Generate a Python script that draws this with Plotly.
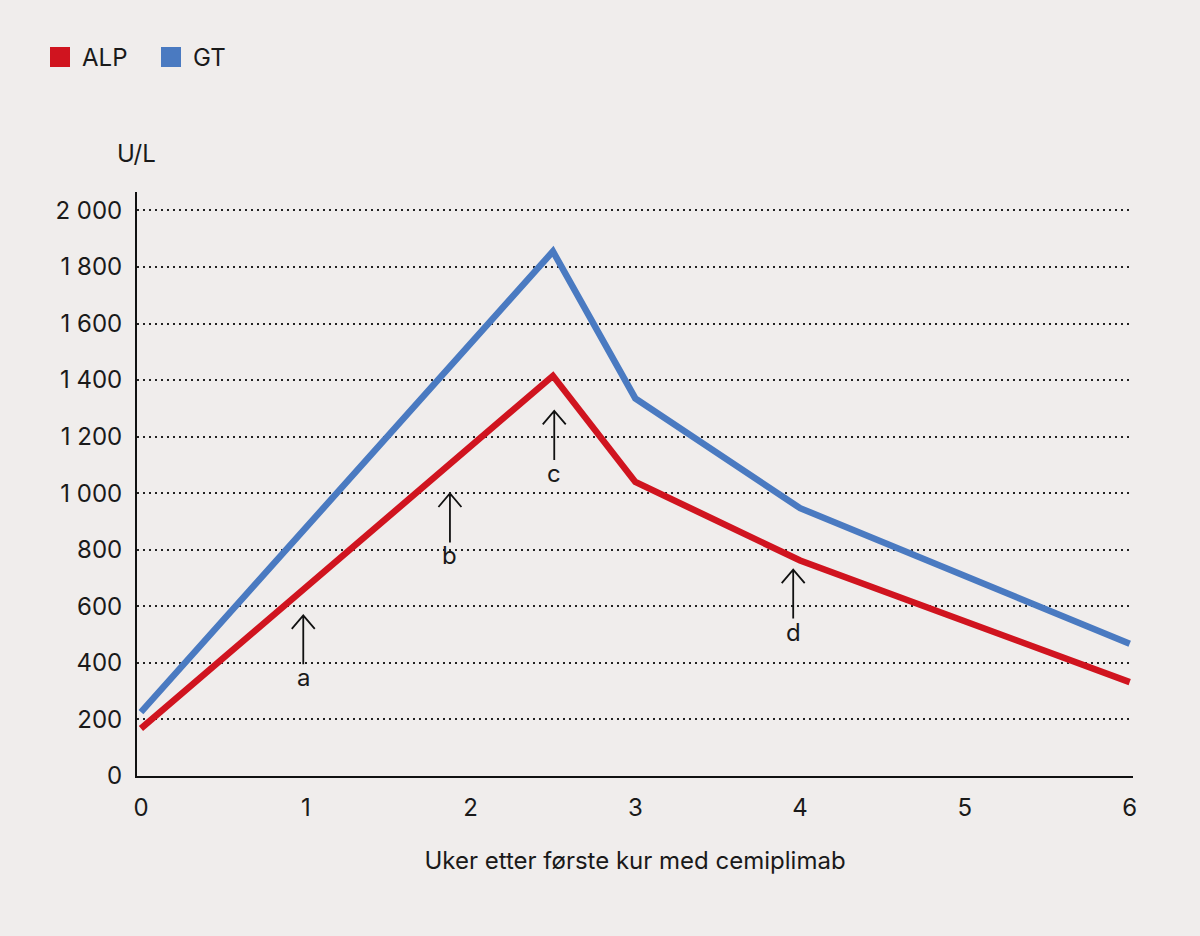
import plotly.graph_objects as go

# ---- data ----
weeks = [0, 2.5, 3, 4, 6]
alp = [168, 1415, 1040, 762, 332]
gt = [226, 1855, 1335, 947, 468]
series_names = ["ALP", "GT"]
series_colors = ["#d0141f", "#4a7ac1"]

y_tickvals = [0, 200, 400, 600, 800, 1000, 1200, 1400, 1600, 1800, 2000]
y_ticktext = ["0", "200", "400", "600", "800", "1 000", "1 200", "1 400", "1 600", "1 800", "2 000"]
x_tickvals = [0, 1, 2, 3, 4, 5, 6]

arrow_labels = ["a", "b", "c", "d"]
arrow_x = [0.985, 1.875, 2.508, 3.958]
arrow_tip_y = [568, 999, 1291, 730]

x_title = "Uker etter første kur med cemiplimab"
y_unit = "U/L"

FONT = "Inter, Liberation Sans, Arial, sans-serif"
FS = 24
BG = "#f0edec"
TXT = "#1a1a1a"

fig = go.Figure()
# draw GT first, ALP on top
fig.add_trace(go.Scatter(x=weeks, y=gt, mode="lines", line=dict(color=series_colors[1], width=6.5),
                         showlegend=False, name=series_names[1]))
fig.add_trace(go.Scatter(x=weeks, y=alp, mode="lines", line=dict(color=series_colors[0], width=6.5),
                         showlegend=False, name=series_names[0]))

shapes = []
annotations = []

# arrows (shaft + open head), anchored at tip in data coords, sized in pixels
for lab, ax_, ty in zip(arrow_labels, arrow_x, arrow_tip_y):
    shapes.append(dict(type="path", xref="x", yref="y", xsizemode="pixel", ysizemode="pixel",
                       xanchor=ax_, yanchor=ty,
                       path="M0,0 L0,-49 M-11.5,-13.5 L0,0 L11.5,-13.5",
                       line=dict(color="#111111", width=1.8)))
    annotations.append(dict(x=ax_, y=ty, xref="x", yref="y", text=lab, showarrow=False,
                            xanchor="center", yanchor="top", yshift=-46,
                            font=dict(family=FONT, size=FS, color=TXT)))

# manual legend (20px squares)
leg_sq_left = [-87, 24]
for name, col, l in zip(series_names, series_colors, leg_sq_left):
    shapes.append(dict(type="rect", xref="paper", yref="paper", xsizemode="pixel", ysizemode="pixel",
                       xanchor=0, yanchor=1, x0=l, x1=l + 20, y0=125, y1=145,
                       fillcolor=col, line=dict(width=0)))
    annotations.append(dict(x=0, y=1, xref="paper", yref="paper", xshift=l + 30, yshift=135,
                            text=name, showarrow=False, xanchor="left", yanchor="middle",
                            font=dict(family=FONT, size=FS, color=TXT)))

# unit label
annotations.append(dict(x=0, y=1, xref="paper", yref="paper", xshift=-1, yshift=39,
                        text=y_unit, showarrow=False, xanchor="center", yanchor="middle",
                        font=dict(family=FONT, size=FS, color=TXT)))

fig.update_layout(
    width=1200, height=936,
    margin=dict(l=137, r=67, t=192, b=160),
    paper_bgcolor=BG, plot_bgcolor=BG,
    showlegend=False,
    font=dict(family=FONT, size=FS, color=TXT),
    shapes=shapes, annotations=annotations,
)
fig.update_xaxes(range=[-0.024, 6.02], tickvals=x_tickvals, ticktext=[str(v) for v in x_tickvals],
                 showgrid=False, zeroline=False, showline=True, linecolor="#111111", linewidth=2,
                 ticks="", ticklabelstandoff=9,
                 title=dict(text=x_title, standoff=31, font=dict(family=FONT, size=FS, color=TXT)),
                 tickfont=dict(family=FONT, size=FS, color=TXT))
fig.update_yaxes(range=[0, 2065], tickvals=y_tickvals, ticktext=y_ticktext,
                 showgrid=True, gridcolor="#222222", gridwidth=1.5, griddash="2px,4px",
                 zeroline=False, showline=True, linecolor="#111111", linewidth=2,
                 ticks="", ticklabelstandoff=8,
                 tickfont=dict(family=FONT, size=FS, color=TXT))

fig.write_html("out.html")
